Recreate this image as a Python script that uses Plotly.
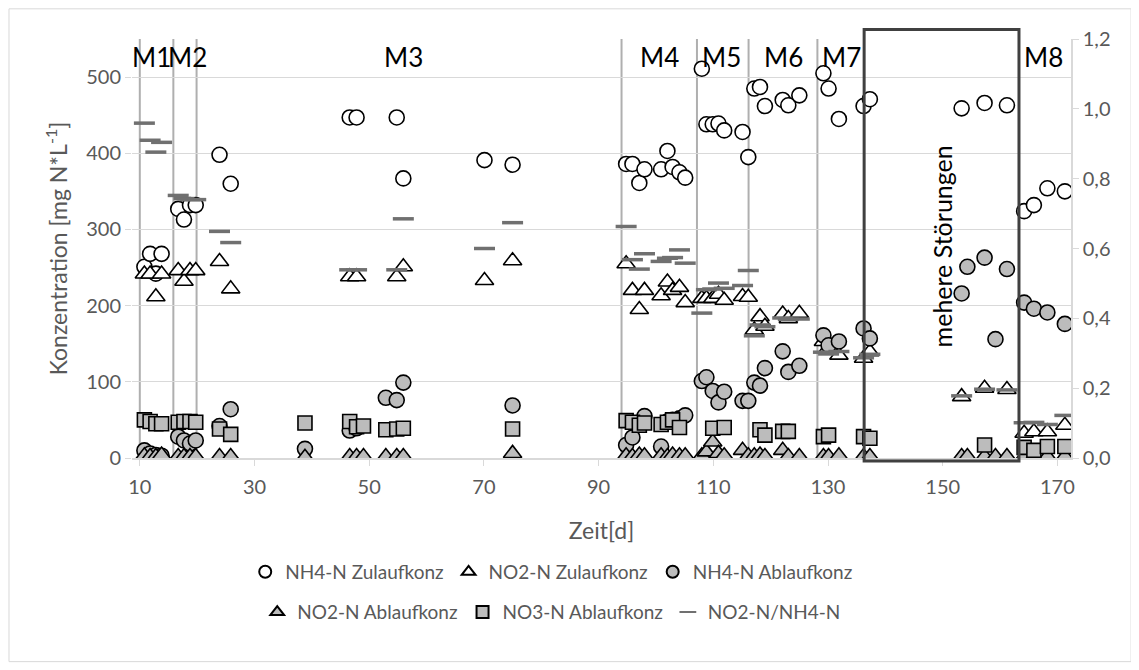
import plotly.graph_objects as go

# ---------------- data ----------------
day_nh4_zu = [10.8, 11.8, 12.8, 13.8, 16.7, 17.7, 18.75, 19.75, 23.9, 25.85,
              46.6, 47.8, 54.8, 55.95, 70.1, 75.0,
              94.8, 95.9, 97.1, 98.0, 100.9, 102.0, 102.9, 104.1, 105.1,
              108.0, 108.8, 109.9, 110.9, 111.9, 115.1, 116.1,
              117.15, 118.14, 119.0, 122.1, 123.08, 125.0,
              129.2, 130.1, 131.9, 136.2, 137.3,
              153.3, 157.3, 161.2, 164.2, 165.9, 168.25, 171.3]
nh4_zu = [251, 268, 242, 268, 327, 313, 332, 332, 398, 360,
          447, 447, 447, 367, 391, 385,
          386, 386, 361, 379, 379, 403, 382, 375, 368,
          511, 438, 438, 439, 430, 428, 395,
          485, 487, 462, 470, 463, 476,
          505, 485, 445, 462, 471,
          459, 466, 463, 324, 332, 354, 350]

day_no2_zu = day_nh4_zu
no2_zu = [241.5, 241.5, 211.7, 241.5, 246, 232, 246, 246, 258, 222,
          238, 238, 238, 251, 233, 259,
          255, 220, 195, 220, 213, 231, 220, 224, 204,
          209.5, 209.5, 209.5, 215, 207, 212, 211,
          168, 185.5, 173, 189, 183, 190,
          153, 145, 135, 131, 139.5,
          80.5, 91.5, 90, 32.5, 34.5, 34.5, 43]

day_ratio = day_nh4_zu
ratio = [0.959, 0.910, 0.876, 0.904, 0.752, 0.743, 0.740, 0.740, 0.649, 0.617,
         0.539, 0.539, 0.539, 0.685, 0.600, 0.674,
         0.663, 0.568, 0.541, 0.585, 0.563, 0.572, 0.574, 0.596, 0.558,
         0.415, 0.482, 0.484, 0.501, 0.486, 0.494, 0.537,
         0.350, 0.381, 0.376, 0.401, 0.397, 0.398,
         0.303, 0.298, 0.305, 0.287, 0.297,
         0.178, 0.197, 0.195, 0.101, 0.102, 0.096, 0.122]

day_nh4_ab = [10.8, 11.8, 12.8, 13.8, 16.7, 17.7, 18.75, 19.75, 23.9, 25.85,
              38.8, 46.6, 47.8, 52.9, 54.8, 55.95, 75.0,
              94.8, 95.9, 97.1, 98.0, 100.9, 102.0, 102.9, 104.1, 105.1,
              108.0, 108.8, 109.9, 110.9, 111.9, 115.1, 116.1,
              117.15, 118.14, 119.0, 122.1, 123.08, 125.0,
              129.2, 130.1, 131.9, 136.2, 137.3,
              153.3, 154.3, 157.3, 159.2, 161.2, 164.2, 165.9, 168.25, 171.3]
nh4_ab = [10, 6, 4, 3, 28, 23, 19, 23, 42, 64,
          12, 36, 39, 79, 76, 99, 69,
          17, 27, 45, 55, 15, 48, 50, 52, 56,
          101, 106, 88, 73, 87, 75, 75,
          99, 95, 118, 140, 113, 121,
          161, 148, 153, 170, 157,
          216, 251, 263, 156, 248, 204, 196, 191, 176]

day_no2_ab = [10.8, 11.8, 12.8, 13.8, 16.7, 17.7, 18.75, 19.75, 23.9, 25.85,
              38.8, 46.6, 47.8, 49.0, 52.9, 54.8, 55.95, 75.0,
              94.8, 95.9, 97.1, 98.0, 100.9, 102.0, 102.9, 104.1, 105.1,
              108.0, 108.8, 109.9, 110.9, 111.9, 115.1, 116.1,
              117.15, 118.14, 119.0, 122.1, 123.08, 125.0,
              129.2, 130.1, 131.9, 136.2, 137.3,
              153.3, 154.3, 157.3, 159.2, 161.2, 164.2, 165.9, 168.25, 171.3]
no2_ab = [3, 2, 2, 4, 2, 2, 2, 2, 2, 2,
          1, 2, 2, 2, 2, 2, 2, 6,
          3, 2, 4, 3, 3, 2, 4, 3, 3,
          3, 8, 21, 6, 3, 10, 3,
          3, 4, 2, 10, 2, 2,
          2, 2, 3, 2, 2,
          2, 2, 2, 2, 2, 2, 2, 2, 2]

day_no3_ab = [10.8, 11.8, 12.8, 13.8, 16.7, 17.7, 18.75, 19.75, 23.9, 25.85,
              38.8, 46.6, 47.8, 49.0, 52.9, 54.8, 55.95, 75.0,
              94.8, 95.9, 97.1, 98.0, 100.9, 102.0, 102.9, 104.1,
              109.9, 111.9, 118.14, 119.0, 122.1, 123.08,
              129.2, 130.1, 136.2, 137.3,
              157.3, 164.2, 165.9, 168.25, 171.3]
no3_ab = [50, 48, 45, 45, 47, 48, 48, 47, 38, 31,
          46, 48, 41, 42, 37, 38, 39, 38,
          49, 47, 43, 46, 44, 47, 50, 40,
          39, 40, 37, 30, 35, 35,
          28, 30, 28, 26,
          17, 14, 10, 15, 15]

series_names = ["NH4-N Zulaufkonz", "NO2-N Zulaufkonz", "NH4-N Ablaufkonz",
                "NO2-N Ablaufkonz", "NO3-N Ablaufkonz", "NO2-N/NH4-N"]

phase_line_days = [10, 15.85, 19.9, 94.0, 107.15, 116.15, 128.15]
phase_labels = ["M1", "M2", "M3", "M4", "M5", "M6", "M7", "M8"]
phase_label_days = [12.1, 18.4, 55.9, 100.7, 111.5, 122.3, 132.4, 167.5]
box_days = [136.3, 163.3]
box_text = "mehere Störungen"
box_text_day = 149.8

x_ticks = [10, 30, 50, 70, 90, 110, 130, 150, 170]
y_ticks = [0, 100, 200, 300, 400, 500]
y2_ticks = [0, 0.2, 0.4, 0.6, 0.8, 1.0, 1.2]
X_RANGE = [8.64, 172.37]

# ---------------- styling ----------------
FONT = "Lato"
GREY_TXT = "#595959"
AX = "#D9D9D9"
FILL = "#BCBCBC"
open_m = dict(color="white", line=dict(color="black", width=1.6))
gray_m = dict(color=FILL, line=dict(color="black", width=1.6))

fig = go.Figure()
fig.add_trace(go.Scatter(x=day_nh4_zu, y=nh4_zu, mode="markers", name=series_names[0],
                         marker=dict(symbol="circle", size=15, **open_m), legend="legend"))
fig.add_trace(go.Scatter(x=day_no2_zu, y=no2_zu, mode="markers", name=series_names[1],
                         marker=dict(symbol="triangle-up", size=16, **open_m), legend="legend"))
fig.add_trace(go.Scatter(x=day_nh4_ab, y=nh4_ab, mode="markers", name=series_names[2],
                         marker=dict(symbol="circle", size=15, **gray_m), legend="legend"))
fig.add_trace(go.Scatter(x=day_no2_ab, y=no2_ab, mode="markers", name=series_names[3],
                         marker=dict(symbol="triangle-up", size=16, **gray_m), legend="legend2"))
fig.add_trace(go.Scatter(x=day_no3_ab, y=no3_ab, mode="markers", name=series_names[4],
                         marker=dict(symbol="square", size=14, **gray_m), legend="legend2"))
fig.add_trace(go.Scatter(x=day_ratio, y=ratio, mode="markers", name=series_names[5], yaxis="y2",
                         marker=dict(symbol="line-ew", size=15, color="#707070",
                                     line=dict(color="#707070", width=3.5)),
                         legend="legend2"))

shapes = []
for d in phase_line_days:
    shapes.append(dict(type="line", xref="x", yref="paper", x0=d, x1=d, y0=0, y1=1,
                       line=dict(color="#AFAFAF", width=2), layer="between"))
span = X_RANGE[1] - X_RANGE[0]
bx0 = (box_days[0] - X_RANGE[0]) / span
bx1 = (box_days[1] - X_RANGE[0]) / span
shapes.append(dict(type="rect", xref="paper", yref="paper", x0=bx0, x1=bx1, y0=-0.007, y1=1.0225,
                   line=dict(color="#404040", width=3), fillcolor="rgba(0,0,0,0)", layer="above"))
# outer chart border
shapes.append(dict(type="rect", xref="paper", yref="paper", x0=-0.131, x1=1.064, y0=-0.486, y1=1.072,
                   line=dict(color=AX, width=1), fillcolor="rgba(0,0,0,0)", layer="below"))

annotations = []
for lab, d in zip(phase_labels, phase_label_days):
    annotations.append(dict(text=lab, x=d, y=0.958, xref="x", yref="paper", showarrow=False,
                            xanchor="center", yanchor="middle",
                            font=dict(family=FONT, size=26, color="black")))
annotations.append(dict(text=box_text, x=box_text_day, y=0.504, xref="x", yref="paper",
                        showarrow=False, textangle=-90, xanchor="center", yanchor="middle",
                        font=dict(family=FONT, size=25, color="black")))

tickfont = dict(family=FONT, size=20, color=GREY_TXT)
titlefont = dict(family=FONT, size=23, color=GREY_TXT)
legfont = dict(family=FONT, size=19, color=GREY_TXT)

# the page adds an 8px body margin, so the figure is 1131x662 and margins are shifted by 8px
fig.update_layout(
    width=1131, height=662,
    margin=dict(l=124, r=68, t=31, b=212),
    paper_bgcolor="white", plot_bgcolor="white",
    separators=",.",
    font=dict(family=FONT, color=GREY_TXT),
    shapes=shapes, annotations=annotations,
    xaxis=dict(range=X_RANGE, tickvals=x_ticks, ticks="outside", ticklen=6, tickcolor=AX,
               showline=True, linecolor=AX, linewidth=1.5, showgrid=False, zeroline=False,
               tickfont=tickfont, automargin=False, ticklabelstandoff=4,
               title=dict(text="Zeit[d]", font=titlefont, standoff=26)),
    yaxis=dict(range=[0, 550], tickvals=y_ticks, ticks="outside", ticklen=6, tickcolor=AX,
               showline=False, showgrid=True, gridcolor=AX, gridwidth=1.3, zeroline=False,
               tickfont=tickfont, automargin=False,
               title=dict(text="Konzentration [mg N*L<sup>-1</sup>]", font=titlefont, standoff=12)),
    yaxis2=dict(range=[0, 1.2], tickvals=y2_ticks, tickformat=".1f", overlaying="y", side="right",
                ticks="outside", ticklen=6, tickcolor=AX, showline=True, linecolor=AX, linewidth=1.5,
                showgrid=False, zeroline=False, tickfont=tickfont, automargin=False),
    legend=dict(orientation="h", x=0.447, xanchor="center", y=-0.272, yanchor="middle",
                font=legfont, itemwidth=30, itemsizing="constant",
                bgcolor="rgba(0,0,0,0)"),
    legend2=dict(orientation="h", x=0.447, xanchor="center", y=-0.368, yanchor="middle",
                 font=legfont, itemwidth=30, itemsizing="constant",
                 bgcolor="rgba(0,0,0,0)"),
    showlegend=True,
)

fig.write_html("out.html")
